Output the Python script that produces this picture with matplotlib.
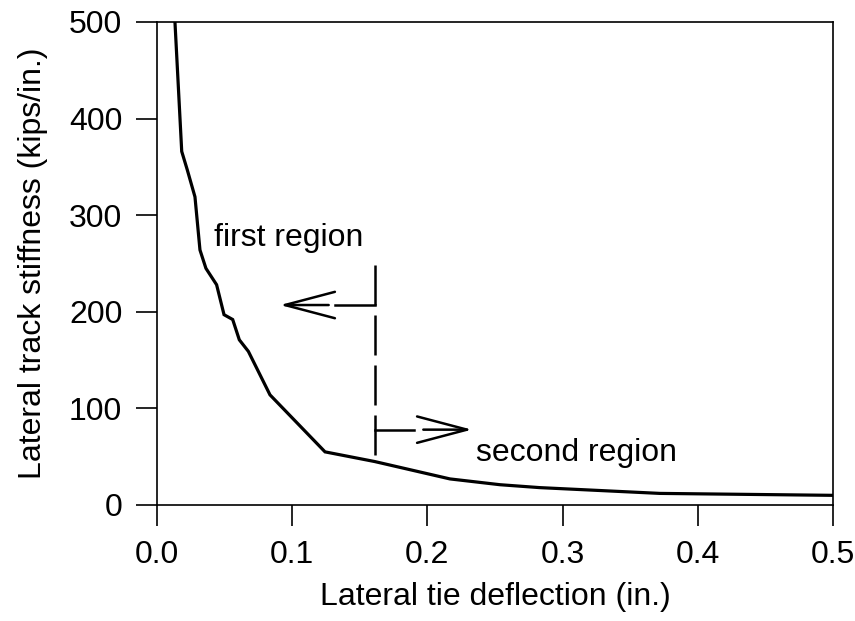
import matplotlib
matplotlib.use('Agg')
import matplotlib.pyplot as plt

plt.rcParams['font.family'] = ['Liberation Sans', 'DejaVu Sans']

# stiffness curve
deflection = [0.0133, 0.0183, 0.0224, 0.0281, 0.0318, 0.0362, 0.0441, 0.0496,
              0.056, 0.0609, 0.0676, 0.0836, 0.1243, 0.161, 0.2167, 0.2537,
              0.283, 0.372, 0.5]
stiffness = [500, 366, 347, 319, 264, 245, 228, 197, 192, 171, 159, 114,
             55, 45, 27, 21, 18, 12, 10]

x_ticks = [0.0, 0.1, 0.2, 0.3, 0.4, 0.5]
x_ticklabels = ['0.0', '0.1', '0.2', '0.3', '0.4', '0.5']
y_ticks = [0, 100, 200, 300, 400, 500]

boundary_x = 0.161
boundary_top = 248
left_arrow_y = 207
left_arrow_tip = 0.091
right_arrow_y = 78
right_arrow_tip = 0.233
arrow_len = 0.036
stub_len = 0.029

FS = 23

fig = plt.figure(figsize=(8.55, 6.21), dpi=100)
ax = fig.add_axes([0.1836, 0.1868, 0.7906, 0.7778])

ax.plot(deflection, stiffness, color='black', lw=2.3, solid_joinstyle='miter')

# region boundary
ax.plot([boundary_x, boundary_x], [boundary_top, 45], color='black', lw=1.8,
        linestyle=(0, (16, 4)))
ax.plot([boundary_x, boundary_x - stub_len], [left_arrow_y, left_arrow_y],
        color='black', lw=1.8)
ax.plot([boundary_x, boundary_x + stub_len], [right_arrow_y, right_arrow_y],
        color='black', lw=1.8)
arrow_kw = dict(arrowstyle='->,head_length=3.6,head_width=0.95',
                color='black', lw=1.8, shrinkA=0, shrinkB=0, mutation_scale=10)
ax.annotate('', xy=(left_arrow_tip, left_arrow_y),
            xytext=(left_arrow_tip + arrow_len, left_arrow_y),
            arrowprops=arrow_kw)
ax.annotate('', xy=(right_arrow_tip, right_arrow_y),
            xytext=(right_arrow_tip - arrow_len, right_arrow_y),
            arrowprops=arrow_kw)

ax.text(0.042, 276, 'first region', fontsize=FS, va='center', ha='left')
ax.text(0.236, 54, 'second region', fontsize=FS, va='center', ha='left')

ax.set_xlim(0, 0.5)
ax.set_ylim(0, 500)
ax.set_xticks(x_ticks)
ax.set_xticklabels(x_ticklabels)
ax.set_yticks(y_ticks)
ax.tick_params(direction='out', length=15, width=1.2, labelsize=FS, pad=10)
for s in ax.spines.values():
    s.set_linewidth(1.2)

ax.set_xlabel('Lateral tie deflection (in.)', fontsize=FS, labelpad=9)
ax.set_ylabel('Lateral track stiffness (kips/in.)', fontsize=FS, labelpad=15)

fig.savefig('out.png', dpi=100)
